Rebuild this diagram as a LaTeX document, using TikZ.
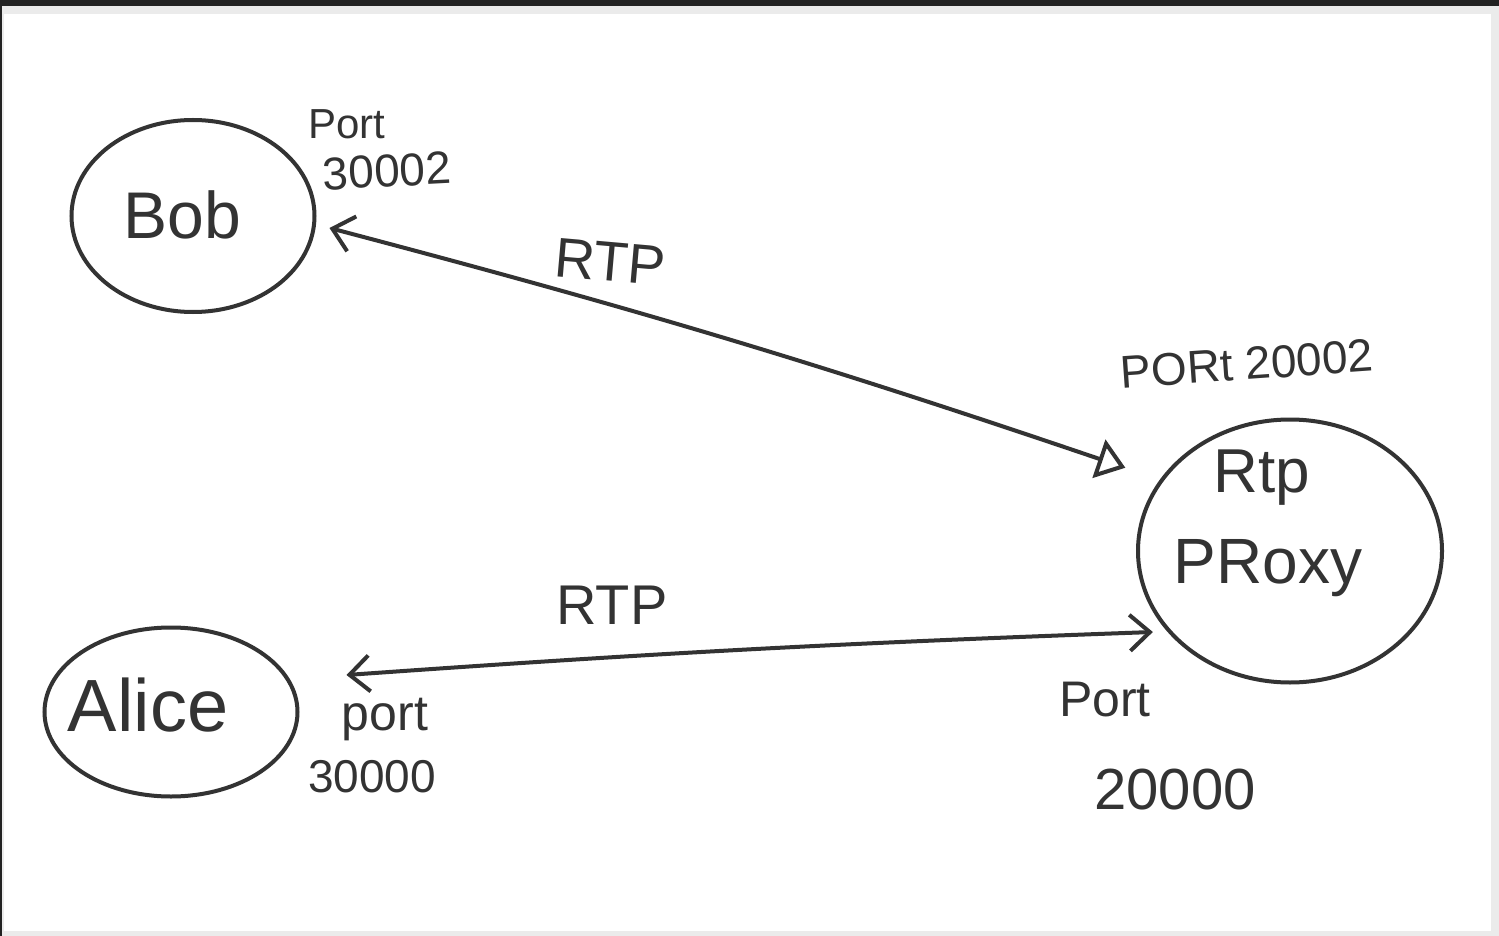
\documentclass[tikz,border=0pt]{standalone}
\usepackage{fontspec}
\setmainfont{Liberation Sans}
\usetikzlibrary{shapes.geometric,arrows.meta}
\definecolor{inkc}{HTML}{333333}
\definecolor{bgc}{HTML}{EBEBEB}
\definecolor{topc}{HTML}{222222}
\begin{document}
\begin{tikzpicture}[x=0.5pt,y=-0.5pt,
  blob/.style={ellipse, draw=inkc, line width=2pt, inner sep=0pt},
  hand/.style={text=inkc, inner sep=0pt, anchor=center, font=\fontsize{#1}{#1}\selectfont},
  link/.style={draw=inkc, line width=2pt, line cap=round, line join=round},
]
% frame
\fill[bgc] (0,0) rectangle (1499,936);
\fill[topc] (0,0) rectangle (1499,6);
\fill[topc] (0,0) rectangle (2,936);
\fill[white] (4,14) rectangle (1491,931);
\useasboundingbox (0,0) rectangle (1499,936);

% nodes
\node[blob, minimum width=121.5pt, minimum height=96pt] (bob) at (193,216) {};
\node[hand=33] (bobt) at (182,215) {Bob};
\node[blob, minimum width=126.5pt, minimum height=84.5pt] (alice) at (171,712) {};
\node[hand=37] (alicet) at (148,705) {Alice};
\node[blob, minimum width=152pt, minimum height=131.5pt] (proxy) at (1290,551) {};
\node[hand=31] (proxyt1) at (1262,478) {Rtp};
\node[hand=32] (proxyt2) at (1268,568) {PRoxy};

% port labels
\node[hand=21] (bp1) at (347,124) {Port};
\node[hand=23, rotate=3] (bp2) at (387,171) {30002};
\node[hand=25] (ap1) at (385,720) {port};
\node[hand=23] (ap2) at (372,777) {30000};
\node[hand=23, rotate=4] (pp1) at (1247,364) {PORt 20002};
\node[hand=25] (pp2) at (1105,700) {Port};
\node[hand=29] (pp3) at (1175,790) {20000};

% connectors
\draw[link, {Straight Barb[length=10pt,width=18pt]}-{Triangle[open,length=14pt,width=20pt]}]
  ([shift={(13,12)}]bob.east) to[bend left=2] ([shift={(-29,-20)}]proxy.155);
\draw[link, {Straight Barb[length=10pt,width=18pt]}-{Straight Barb[length=10pt,width=18pt]}]
  ([shift={(47,-37)}]alice.east) to[bend left=1] ([shift={(-9,7)}]proxy.210);

% RTP labels
\node[hand=28, rotate=-5] (rtp1) at (610,262) {RTP};
\node[hand=28] (rtp2) at (612,605) {RTP};
\end{tikzpicture}
\end{document}
